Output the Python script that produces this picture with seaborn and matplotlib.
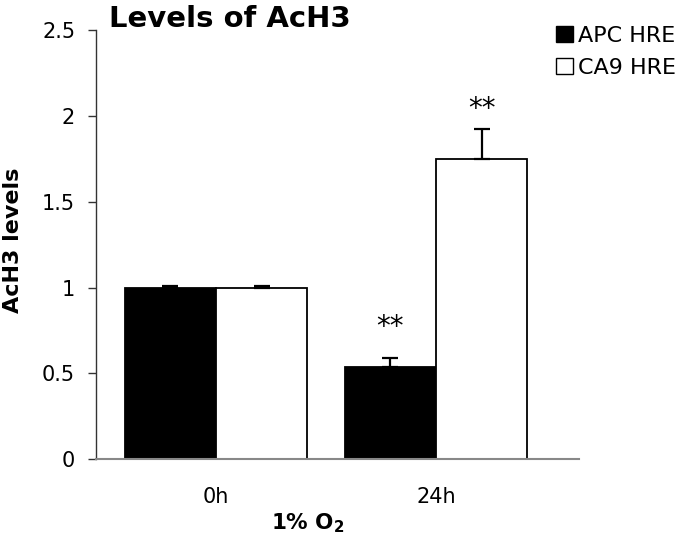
import pandas as pd
import matplotlib
matplotlib.use('Agg')
import matplotlib.pyplot as plt
import seaborn as sns

# Daten
timepoints = ['0h', '24h']
apc_values = [1.0, 0.535]
ca9_values = [1.0, 1.75]
apc_err = [0.01, 0.055]
ca9_err = [0.01, 0.175]
series = ['APC HRE', 'CA9 HRE']
# Signifikanz-Sterne: (Zeitpunkt, Gruppe) -> Höhe
stars = {('24h', 'APC HRE'): 0.795, ('24h', 'CA9 HRE'): 2.065}

df = pd.DataFrame({
    'time': timepoints * 2,
    'group': [series[0]] * 2 + [series[1]] * 2,
    'value': apc_values + ca9_values,
    'err': apc_err + ca9_err,
})

sns.set_style("white")
plt.rcParams['font.family'] = ['DejaVu Sans']
for k in ['text.color', 'axes.labelcolor', 'xtick.color', 'ytick.color']:
    plt.rcParams[k] = 'black'

fig = plt.figure(figsize=(6.87, 5.39), dpi=100)
ax = fig.add_axes([0.1397, 0.1479, 0.7031, 0.7964])

sns.barplot(data=df, x='time', y='value', hue='group', order=timepoints,
            hue_order=series, palette=['black', 'white'], edgecolor='black',
            linewidth=1.3, width=0.83, errorbar=None, legend=False, ax=ax)

# Fehlerbalken (nur nach oben) und Sterne
for cont, grp in zip(ax.containers, series):
    sub = df[df['group'] == grp].set_index('time').loc[timepoints]
    for bar, t in zip(cont, timepoints):
        xc = bar.get_x() + bar.get_width() / 2
        v = sub.loc[t, 'value']
        e = sub.loc[t, 'err']
        ax.errorbar(xc, v, yerr=[[0], [e]], fmt='none', ecolor='black',
                    elinewidth=1.6, capsize=6, capthick=1.6, zorder=3)
        if (t, grp) in stars:
            ax.annotate('**', (xc, stars[(t, grp)]), xytext=(0, -13),
                        textcoords='offset points', ha='center', va='bottom',
                        fontsize=20)

ax.set_xlim(-0.545, 1.65)
ax.set_ylim(0, 2.5)
ax.set_yticks([0, 0.5, 1, 1.5, 2, 2.5])
ax.set_yticklabels(['0', '0.5', '1', '1.5', '2', '2.5'])
ax.tick_params(axis='y', direction='out', length=6, width=1, color='#333333',
               labelsize=15, pad=9, left=True)
ax.tick_params(axis='x', length=0, labelsize=15, pad=20)

for s in ['top', 'right']:
    ax.spines[s].set_visible(False)
ax.spines['left'].set_color('#333333')
ax.spines['bottom'].set_color('#888888')
ax.spines['left'].set_linewidth(1.0)
ax.spines['bottom'].set_linewidth(1.5)

ax.set_ylabel('AcH3 levels', fontsize=16, fontweight='bold')
ax.yaxis.set_label_coords(-0.151, 0.511)
ax.set_xlabel('1% O$_\\mathbf{2}$', fontsize=15.5, fontweight='bold')
ax.xaxis.set_label_coords((308 - 96) / 483, -0.122)

fig.text(109 / 687, 1 - 27 / 539, 'Levels of AcH3', fontsize=21,
         fontweight='bold', ha='left', va='baseline')

handles = [plt.Rectangle((0, 0), 1, 1, facecolor=c, edgecolor='black', linewidth=1)
           for c in ['black', 'white']]
fig.legend(handles, series, loc='upper left', bbox_to_anchor=(556 / 687, 1 - 26 / 539),
           frameon=False, fontsize=16, handlelength=0.75, handleheight=0.75,
           handletextpad=0.25, labelspacing=0.53, borderaxespad=0, borderpad=0)

fig.savefig('out.png', dpi=100)
